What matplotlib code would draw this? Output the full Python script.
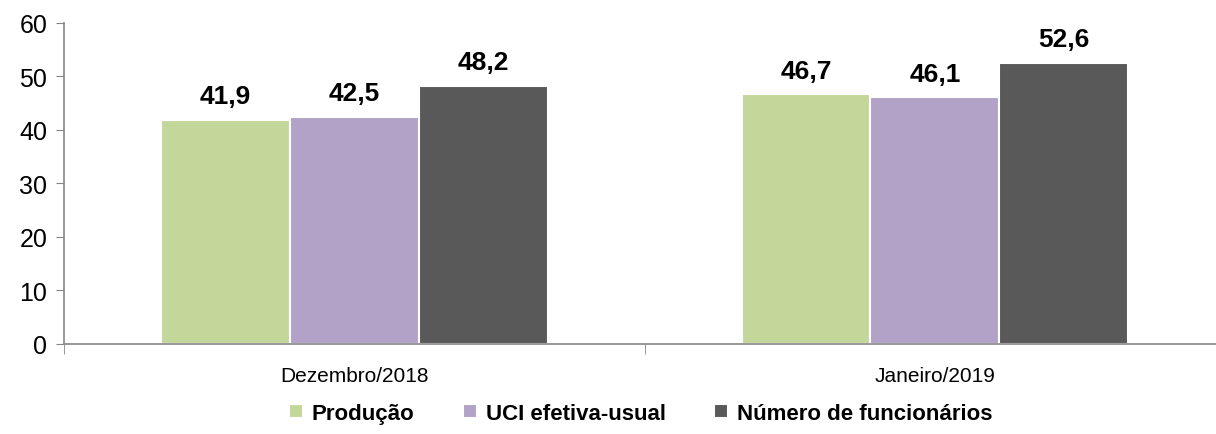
import matplotlib.pyplot as plt
import numpy as np

# data
categories = ["Dezembro/2018", "Janeiro/2019"]
series_names = ["Produção", "UCI efetiva-usual", "Número de funcionários"]
producao = [41.9, 46.7]
uci = [42.5, 46.1]
funcionarios = [48.2, 52.6]
colors = ["#C4D79B", "#B2A2C7", "#595959"]

plt.rcParams['font.family'] = ['Liberation Sans', 'DejaVu Sans']

fig = plt.figure(figsize=(12.16, 4.35), dpi=100)
ax = fig.add_axes([0.0526, 0.207, 0.955, 0.738])

x = np.arange(len(categories))
width = 0.222
offsets = [-width, 0, width]

for vals, name, col, off in zip([producao, uci, funcionarios], series_names, colors, offsets):
    bars = ax.bar(x + off, vals, width, color=col, edgecolor='white', linewidth=1.5, label=name)
    for b, v in zip(bars, vals):
        ax.text(b.get_x() + b.get_width() / 2, v + 3.1, f"{v:.1f}".replace('.', ','),
                ha='center', va='baseline', fontsize=19, fontweight='bold')

ax.set_xlim(-0.5, 1.49)
ax.set_ylim(0, 60)
ax.set_yticks(range(0, 61, 10))
ax.tick_params(axis='y', labelsize=18, length=6, color='#868686', pad=6)

ax.set_xticks(x)
ax.set_xticklabels(categories, fontsize=15)
ax.tick_params(axis='x', which='major', length=0, pad=16)
ax.set_xticks([-0.5, 0.5, 1.5], minor=True)
ax.tick_params(axis='x', which='minor', length=7, color='#868686')

for s in ['top', 'right']:
    ax.spines[s].set_visible(False)
for s in ['left', 'bottom']:
    ax.spines[s].set_color('#868686')
    ax.spines[s].set_linewidth(1.2)

leg = fig.legend(loc='center', bbox_to_anchor=(0.527, 0.047), ncol=3, frameon=False,
                 handlelength=0.6, handleheight=0.6, handletextpad=0.4, columnspacing=2.2,
                 prop={'weight': 'bold', 'size': 16})

fig.savefig("out.png", dpi=100)
